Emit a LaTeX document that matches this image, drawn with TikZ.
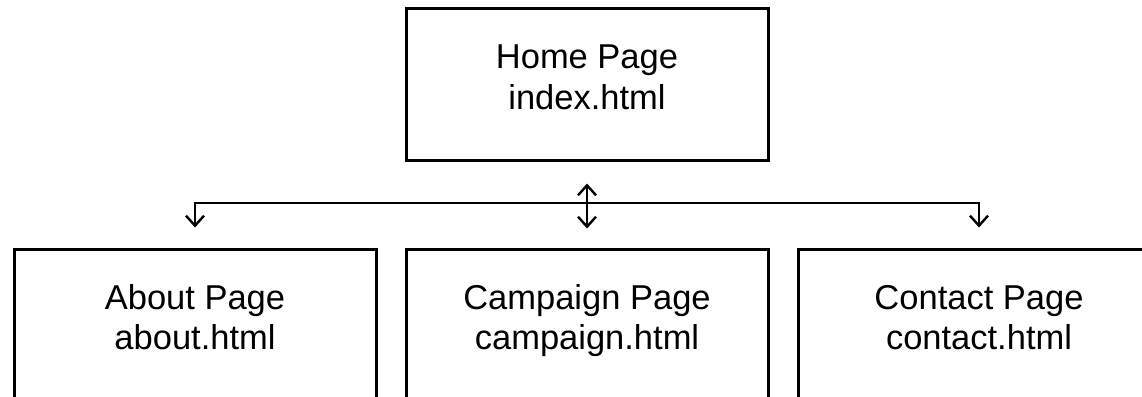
\documentclass[tikz,border=0pt]{standalone}
\usepackage{fontspec}
\setmainfont{Liberation Sans}
\usetikzlibrary{arrows.meta,calc}

% two-line label with fixed height/depth so every box sets its text alike
\newcommand{\pagelabel}[2]{\rule{0pt}{24.7pt}#1\\#2\rule[-15.7pt]{0pt}{0pt}}

\tikzset{
  pagebox/.style={draw=black, line width=3pt, rectangle,
    minimum width=362pt, minimum height=151pt, inner sep=0pt,
    align=center, font=\fontsize{34.5pt}{40pt}\selectfont},
  tip/.tip={Straight Barb[length=10pt,width=18pt,line width=2.4pt]},
  conn/.style={draw=black, line width=2.6pt, arrows={-tip}},
  conn2/.style={draw=black, line width=2.6pt, arrows={tip-tip}}
}

\begin{document}
\begin{tikzpicture}[x=1pt,y=-1pt]
  \useasboundingbox (0,0) rectangle (1142,396);
  \fill[white] (0,0) rectangle (1142,396);
  \clip (0,0) rectangle (1142,396);

  % site pages
  \node[pagebox] (home)     at (587,84.5)  {\pagelabel{Home Page}{index.html}};
  \node[pagebox] (about)    at (195,324.5) {\pagelabel{About Page}{about.html}};
  \node[pagebox] (campaign) at (587,324.5) {\pagelabel{Campaign Page}{campaign.html}};
  \node[pagebox] (contact)  at (979,324.5) {\pagelabel{Contact Page}{contact.html}};

  % navigation bus
  \coordinate (hub) at (587,203);
  \draw[conn] (hub) -| ($(about.north)+(0,-20)$);
  \draw[conn] (hub) -| ($(contact.north)+(0,-20)$);
  \draw[conn2] ($(home.south)+(0,22)$) -- ($(campaign.north)+(0,-19)$);
\end{tikzpicture}
\end{document}
